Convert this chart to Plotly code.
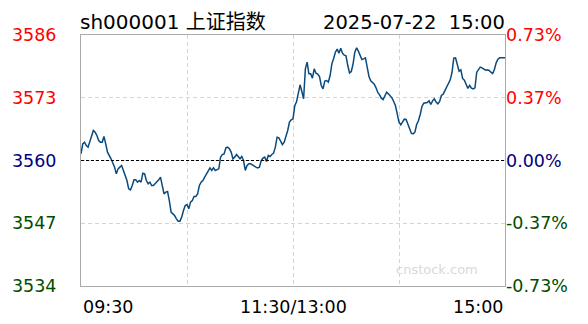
import plotly.graph_objects as go

# ---------------- data ----------------
title_left = "sh000001 上证指数"
title_right = "2025-07-22\u00a0\u00a015:00"
watermark = "cnstock.com"

prev_close = 3560
price_ticks = [3586, 3573, 3560, 3547, 3534]
price_labels = ["3586", "3573", "3560", "3547", "3534"]
pct_labels = ["0.73%", "0.37%", "0.00%", "-0.37%", "-0.73%"]
tick_colors = ["#ff0000", "#ff0000", "#000080", "#004d00", "#004d00"]

time_labels = ["09:30", "11:30/13:00", "15:00"]
time_label_minutes = [0, 120, 240]
grid_minutes = [60, 120, 180]

# morning session (minutes after 09:30)
am_minutes = [0, 1, 2, 3, 4, 5, 7, 8, 9, 10, 11, 12, 13, 14, 15, 17, 19, 20, 21, 22,
              23, 24, 26, 27, 28, 29, 30, 31, 32, 33, 34, 35, 36, 37, 38, 39, 40, 41, 42, 44,
              45, 46, 47, 48, 49, 50, 51, 52, 53, 54, 55, 56, 57, 58, 59, 60, 61, 62, 63, 64,
              65, 66, 67, 68, 69, 70, 71, 72, 73, 74, 75, 76, 77, 78, 79, 80, 81, 82, 83, 84,
              85, 86, 87, 88, 89, 90, 91, 92, 93, 94, 95, 96, 97, 98, 99, 100, 101, 102, 103, 104,
              105, 106, 107, 108, 109, 110, 111, 112, 113, 114, 115, 116, 117, 118, 119, 120]
am_prices = [3561.38, 3563.45, 3563.80, 3563.11, 3562.76, 3563.80, 3566.22, 3565.87, 3565.18, 3564.14,
             3563.80, 3563.80, 3564.97, 3563.45, 3561.73, 3560.35, 3558.62, 3557.24, 3558.27, 3558.62,
             3558.96, 3557.93, 3555.86, 3554.13, 3553.92, 3554.82, 3555.99, 3555.99, 3555.51, 3555.86,
             3555.51, 3557.38, 3557.24, 3555.86, 3555.17, 3555.51, 3554.82, 3554.82, 3555.17, 3555.99,
             3556.55, 3554.82, 3553.09, 3553.44, 3553.58, 3551.71, 3549.30, 3548.95, 3548.60, 3547.91,
             3547.43, 3547.43, 3548.26, 3549.64, 3550.68, 3550.88, 3549.99, 3551.37, 3551.71, 3552.54,
             3552.54, 3553.09, 3554.82, 3555.51, 3555.86, 3556.55, 3557.24, 3557.93, 3558.48, 3557.93,
             3558.48, 3557.93, 3558.07, 3558.27, 3560.69, 3561.24, 3561.38, 3562.62, 3562.76, 3562.42,
             3561.73, 3560.35, 3560.69, 3561.24, 3560.83, 3560.35, 3560.83, 3560.00, 3557.93, 3558.96,
             3559.31, 3559.31, 3559.10, 3558.76, 3558.62, 3558.48, 3558.62, 3560.00, 3560.48, 3560.69,
             3559.79, 3561.04, 3560.83, 3561.24, 3561.52, 3562.76, 3564.83, 3564.70, 3564.14, 3563.31,
             3563.80, 3564.97, 3566.22, 3567.94, 3568.43, 3568.63]

# afternoon session, minutes 13:01 .. 15:00
pm_prices = [3571.33, 3572.15, 3574.16, 3575.68, 3574.30, 3572.78, 3578.99, 3580.37, 3577.96, 3577.96,
             3577.06, 3578.99, 3578.09, 3577.89, 3577.40, 3575.54, 3574.85, 3576.44, 3576.57, 3576.23,
             3577.61, 3580.03, 3581.13, 3582.44, 3583.07, 3582.24, 3583.27, 3582.24, 3581.82, 3581.69,
             3579.68, 3578.16, 3578.44, 3580.03, 3582.44, 3583.34, 3582.65, 3581.55, 3580.93, 3581.06,
             3581.27, 3579.34, 3577.40, 3576.51, 3576.23, 3575.81, 3575.06, 3574.09, 3573.60, 3572.91,
             3572.64, 3573.40, 3574.16, 3573.81, 3573.47, 3572.98, 3572.22, 3571.33, 3569.67, 3567.94,
             3567.39, 3568.08, 3568.56, 3568.49, 3567.67, 3566.63, 3565.66, 3565.52, 3565.87, 3567.46,
             3568.22, 3569.53, 3571.19, 3571.88, 3572.02, 3572.02, 3572.36, 3571.60, 3572.36, 3572.78,
             3572.09, 3571.74, 3572.22, 3573.47, 3573.74, 3574.50, 3575.19, 3575.95, 3576.71, 3578.23,
             3581.20, 3581.27, 3580.03, 3578.51, 3578.78, 3576.99, 3576.64, 3575.61, 3574.92, 3575.54,
             3574.99, 3574.85, 3575.06, 3578.30, 3578.85, 3579.34, 3579.20, 3578.92, 3578.72, 3578.78,
             3578.65, 3578.30, 3578.02, 3578.85, 3580.23, 3580.99, 3581.27, 3581.27, 3581.27, 3581.27]
pm_minutes = list(range(121, 121 + len(pm_prices)))

# ---------------- figure ----------------
FONT = "DejaVu Sans, Verdana, Noto Sans CJK SC, sans-serif"
minutes = am_minutes + pm_minutes
prices = am_prices + pm_prices

fig = go.Figure()
fig.add_trace(go.Scatter(x=minutes, y=prices, mode="lines",
                         line=dict(color="#0b4a7d", width=1.5), hoverinfo="skip"))
fig.add_trace(go.Scatter(x=minutes, y=prices, mode="lines", yaxis="y2",
                         line=dict(color="rgba(0,0,0,0)", width=0), hoverinfo="skip"))

span = [price_ticks[-1], price_ticks[0]]

fig.update_layout(
    width=588, height=324,
    margin=dict(l=79, r=83, t=35, b=38),
    paper_bgcolor="white", plot_bgcolor="white",
    showlegend=False,
    font=dict(family=FONT, size=17.5, color="black"),
    xaxis=dict(range=[0, 240], tickvals=grid_minutes, showticklabels=False, ticks="",
               showgrid=True, gridcolor="#d4d4d4", griddash="4px,3px", gridwidth=1,
               showline=True, linecolor="#aaaaaa", linewidth=1, mirror=True, zeroline=False),
    yaxis=dict(range=span, tickvals=price_ticks,
               ticktext=[f"<span style='color:{c}'>{t}</span>" for t, c in zip(price_labels, tick_colors)],
               ticks="", ticklabelstandoff=20,
               showgrid=True, gridcolor="#d4d4d4", griddash="4px,3px", gridwidth=1,
               showline=True, linecolor="#aaaaaa", linewidth=1, mirror=True, zeroline=False,
               tickfont=dict(size=17.5)),
    yaxis2=dict(range=span, overlaying="y", side="right", tickvals=price_ticks,
                ticktext=[f"<span style='color:{c}'>{t}</span>" for t, c in zip(pct_labels, tick_colors)],
                ticks="", showgrid=False, showline=False, zeroline=False,
                tickfont=dict(size=17.5)),
)

fig.add_shape(type="line", xref="paper", x0=0, x1=1, yref="y", y0=prev_close, y1=prev_close,
              line=dict(color="black", width=1, dash="3px,2px"))

anchors = ["left", "center", "right"]
for lab, m, a in zip(time_labels, time_label_minutes, anchors):
    fig.add_annotation(x=m, xref="x", y=-0.082, yref="paper", text=lab, showarrow=False,
                       xanchor=a, yanchor="middle", font=dict(size=17.5, color="black"))

fig.add_annotation(x=0, xref="paper", y=1, yref="paper", text=title_left, showarrow=False,
                   xanchor="left", yanchor="bottom", xshift=-3, yshift=-1,
                   font=dict(size=20, color="black"))
fig.add_annotation(x=1, xref="paper", y=1, yref="paper", text=title_right, showarrow=False,
                   xanchor="right", yanchor="bottom", xshift=2, yshift=-1,
                   font=dict(size=19.5, color="black"))
fig.add_annotation(x=0.84, xref="paper", y=0.064, yref="paper", text=watermark, showarrow=False,
                   xanchor="center", yanchor="middle", font=dict(size=13, color="#d9d9d9"))

fig.write_html("out.html")
